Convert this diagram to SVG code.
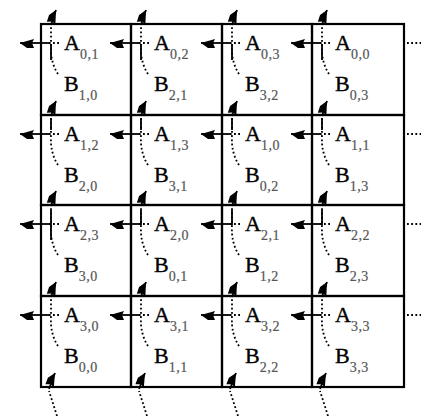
<svg xmlns="http://www.w3.org/2000/svg" width="421" height="416" viewBox="0 0 421 416">
<style>
.cell{fill:none;stroke:#000;stroke-width:2.2}
text{font-family:'Liberation Serif','DejaVu Serif','Times New Roman',serif;font-size:22px;fill:#000;stroke:#000;stroke-width:0.35}
.s{font-size:14px;fill:#555;stroke:#555;stroke-width:0.2;letter-spacing:0.5px}
.dot{fill:none;stroke:#000;stroke-width:1.8;stroke-dasharray:1.8 2.4}
.sol{fill:none;stroke:#000;stroke-width:1.8}
</style>
<defs>
<marker id="ah" markerUnits="userSpaceOnUse" viewBox="-15 -6 16 12" refX="0" refY="0" markerWidth="16" markerHeight="12" orient="auto">
<path d="M0,0 L-7,-5 L-14,-5 L-12,0 L-14,4 Z" fill="#000"/>
</marker>
</defs>
<rect width="421" height="416" fill="#fff"/>
<g id="grid">
<g id="c00"><rect class="cell" x="41" y="24" width="90" height="91"/><text x="64" y="50">A<tspan class="s" dy="9">0,1</tspan></text><text x="64" y="91">B<tspan class="s" dy="9">1,0</tspan></text></g>
<g id="c01"><rect class="cell" x="131" y="24" width="91" height="91"/><text x="154" y="50">A<tspan class="s" dy="9">0,2</tspan></text><text x="154" y="91">B<tspan class="s" dy="9">2,1</tspan></text></g>
<g id="c02"><rect class="cell" x="222" y="24" width="90" height="91"/><text x="245" y="50">A<tspan class="s" dy="9">0,3</tspan></text><text x="245" y="91">B<tspan class="s" dy="9">3,2</tspan></text></g>
<g id="c03"><rect class="cell" x="312" y="24" width="92" height="91"/><text x="335" y="50">A<tspan class="s" dy="9">0,0</tspan></text><text x="335" y="91">B<tspan class="s" dy="9">0,3</tspan></text></g>

<g id="c10"><rect class="cell" x="41" y="115" width="90" height="90"/><text x="64" y="141">A<tspan class="s" dy="9">1,2</tspan></text><text x="64" y="182">B<tspan class="s" dy="9">2,0</tspan></text></g>
<g id="c11"><rect class="cell" x="131" y="115" width="91" height="90"/><text x="154" y="141">A<tspan class="s" dy="9">1,3</tspan></text><text x="154" y="182">B<tspan class="s" dy="9">3,1</tspan></text></g>
<g id="c12"><rect class="cell" x="222" y="115" width="90" height="90"/><text x="245" y="141">A<tspan class="s" dy="9">1,0</tspan></text><text x="245" y="182">B<tspan class="s" dy="9">0,2</tspan></text></g>
<g id="c13"><rect class="cell" x="312" y="115" width="92" height="90"/><text x="335" y="141">A<tspan class="s" dy="9">1,1</tspan></text><text x="335" y="182">B<tspan class="s" dy="9">1,3</tspan></text></g>

<g id="c20"><rect class="cell" x="41" y="205" width="90" height="91"/><text x="64" y="231">A<tspan class="s" dy="9">2,3</tspan></text><text x="64" y="272">B<tspan class="s" dy="9">3,0</tspan></text></g>
<g id="c21"><rect class="cell" x="131" y="205" width="91" height="91"/><text x="154" y="231">A<tspan class="s" dy="9">2,0</tspan></text><text x="154" y="272">B<tspan class="s" dy="9">0,1</tspan></text></g>
<g id="c22"><rect class="cell" x="222" y="205" width="90" height="91"/><text x="245" y="231">A<tspan class="s" dy="9">2,1</tspan></text><text x="245" y="272">B<tspan class="s" dy="9">1,2</tspan></text></g>
<g id="c23"><rect class="cell" x="312" y="205" width="92" height="91"/><text x="335" y="231">A<tspan class="s" dy="9">2,2</tspan></text><text x="335" y="272">B<tspan class="s" dy="9">2,3</tspan></text></g>

<g id="c30"><rect class="cell" x="41" y="296" width="90" height="91"/><text x="64" y="322">A<tspan class="s" dy="9">3,0</tspan></text><text x="64" y="363">B<tspan class="s" dy="9">0,0</tspan></text></g>
<g id="c31"><rect class="cell" x="131" y="296" width="91" height="91"/><text x="154" y="322">A<tspan class="s" dy="9">3,1</tspan></text><text x="154" y="363">B<tspan class="s" dy="9">1,1</tspan></text></g>
<g id="c32"><rect class="cell" x="222" y="296" width="90" height="91"/><text x="245" y="322">A<tspan class="s" dy="9">3,2</tspan></text><text x="245" y="363">B<tspan class="s" dy="9">2,2</tspan></text></g>
<g id="c33"><rect class="cell" x="312" y="296" width="92" height="91"/><text x="335" y="322">A<tspan class="s" dy="9">3,3</tspan></text><text x="335" y="363">B<tspan class="s" dy="9">3,3</tspan></text></g>
</g>
<g id="connectors">
<g id="hA">
<path class="dot" d="M59,43 H49 M149,43 H139 M240,43 H230 M330,43 H320 M407,43 H421"/>
<path class="dot" d="M59,134 H49 M149,134 H139 M240,134 H230 M330,134 H320 M407,134 H421"/>
<path class="dot" d="M59,224 H49 M149,224 H139 M240,224 H230 M330,224 H320 M407,224 H421"/>
<path class="dot" d="M59,315 H49 M149,315 H139 M240,315 H230 M330,315 H320 M407,315 H421"/>
<path class="sol" marker-end="url(#ah)" d="M49,43 H20"/><path class="sol" marker-end="url(#ah)" d="M139,43 H110"/><path class="sol" marker-end="url(#ah)" d="M230,43 H201"/><path class="sol" marker-end="url(#ah)" d="M320,43 H291"/>
<path class="sol" marker-end="url(#ah)" d="M49,134 H20"/><path class="sol" marker-end="url(#ah)" d="M139,134 H110"/><path class="sol" marker-end="url(#ah)" d="M230,134 H201"/><path class="sol" marker-end="url(#ah)" d="M320,134 H291"/>
<path class="sol" marker-end="url(#ah)" d="M49,224 H20"/><path class="sol" marker-end="url(#ah)" d="M139,224 H110"/><path class="sol" marker-end="url(#ah)" d="M230,224 H201"/><path class="sol" marker-end="url(#ah)" d="M320,224 H291"/>
<path class="sol" marker-end="url(#ah)" d="M49,315 H20"/><path class="sol" marker-end="url(#ah)" d="M139,315 H110"/><path class="sol" marker-end="url(#ah)" d="M230,315 H201"/><path class="sol" marker-end="url(#ah)" d="M320,315 H291"/>
</g>
<g id="vB">
<path class="dot" d="M58,74 Q50,62 51,44 V27 M148,74 Q140,62 141,44 V27 M239,74 Q231,62 232,44 V27 M329,74 Q321,62 322,44 V27"/>
<path class="dot" d="M58,165 Q50,153 51,135 V118 M148,165 Q140,153 141,135 V118 M239,165 Q231,153 232,135 V118 M329,165 Q321,153 322,135 V118"/>
<path class="dot" d="M58,255 Q50,243 51,225 V208 M148,255 Q140,243 141,225 V208 M239,255 Q231,243 232,225 V208 M329,255 Q321,243 322,225 V208"/>
<path class="dot" d="M58,346 Q50,334 51,316 V299 M148,346 Q140,334 141,316 V299 M239,346 Q231,334 232,316 V299 M329,346 Q321,334 322,316 V299"/>
<path class="sol" d="M51,44 V60 M141,44 V60 M232,44 V60 M322,44 V60 M51,118 V130 M141,118 V130 M232,118 V130 M322,118 V130 M51,210 V240 M141,210 V225 M232,210 V225 M322,210 V225"/>
<path class="sol" marker-end="url(#ah)" d="M51,25 L56,10"/><path class="sol" marker-end="url(#ah)" d="M141,25 L146,10"/><path class="sol" marker-end="url(#ah)" d="M232,25 L237,10"/><path class="sol" marker-end="url(#ah)" d="M322,25 L327,10"/>
<path class="sol" marker-end="url(#ah)" d="M51,116 L56,101"/><path class="sol" marker-end="url(#ah)" d="M141,116 L146,101"/><path class="sol" marker-end="url(#ah)" d="M232,116 L237,101"/><path class="sol" marker-end="url(#ah)" d="M322,116 L327,101"/>
<path class="sol" marker-end="url(#ah)" d="M51,206 L56,191"/><path class="sol" marker-end="url(#ah)" d="M141,206 L146,191"/><path class="sol" marker-end="url(#ah)" d="M232,206 L237,191"/><path class="sol" marker-end="url(#ah)" d="M322,206 L327,191"/>
<path class="sol" marker-end="url(#ah)" d="M51,297 L56,282"/><path class="sol" marker-end="url(#ah)" d="M141,297 L146,282"/><path class="sol" marker-end="url(#ah)" d="M232,297 L237,282"/><path class="sol" marker-end="url(#ah)" d="M322,297 L327,282"/>
<path class="dot" d="M57,416 L49,391 M147,416 L139,391 M238,416 L230,391 M328,416 L320,391"/>
<path class="sol" marker-end="url(#ah)" d="M49,389 L55,373"/><path class="sol" marker-end="url(#ah)" d="M139,389 L145,373"/><path class="sol" marker-end="url(#ah)" d="M230,389 L236,373"/><path class="sol" marker-end="url(#ah)" d="M320,389 L326,373"/>
</g>
</g>
</svg>
